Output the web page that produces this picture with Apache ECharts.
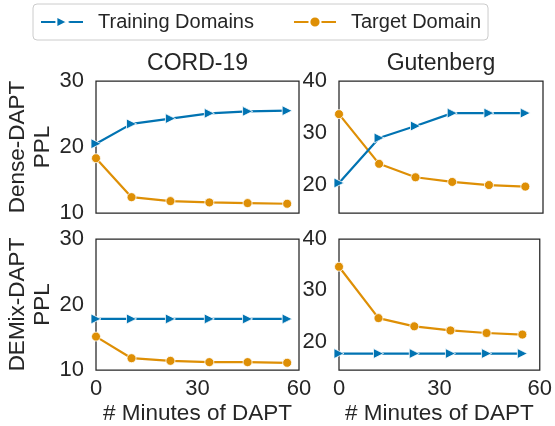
<!DOCTYPE html>
<html>
<head>
<meta charset="utf-8">
<script src="https://cdn.jsdelivr.net/npm/echarts@6.0.0/dist/echarts.min.js"></script>
<style>
    html, body { margin: 0; padding: 0; background: #fff; }
    #chart { width: 555px; height: 426px; }
</style>
</head>
<body>
<div id="chart"></div>
<script>
    // DATA
    // x positions (minutes of DAPT) for each column
    const minutesCord = [0, 10.5, 22, 33.5, 44.8, 56.5];
    const minutesGut = [0, 11.8, 22.5, 33.3, 44.1, 54.8];
    // Dense-DAPT row
    const denseCordTrain = [20.5, 23.5, 24.3, 25.1, 25.4, 25.5];
    const denseCordTarget = [18.3, 12.4, 11.8, 11.6, 11.5, 11.4];
    const denseGutTrain = [20.3, 29.0, 31.3, 33.8, 33.8, 33.8];
    const denseGutTarget = [33.6, 24.0, 21.4, 20.5, 19.9, 19.6];
    // DEMix-DAPT row
    const demixCordTrain = [17.8, 17.8, 17.8, 17.8, 17.8, 17.8];
    const demixCordTarget = [15.1, 11.8, 11.4, 11.2, 11.2, 11.1];
    const demixGutTrain = [17.7, 17.7, 17.7, 17.7, 17.7, 17.7];
    const demixGutTarget = [34.6, 24.6, 23.0, 22.2, 21.7, 21.4];

    const columnTitles = ['CORD-19', 'Gutenberg'];
    const rowNames = ['Dense-DAPT\nPPL', 'DEMix-DAPT\nPPL'];
    const xTicks = [0, 30, 60];
    const leftYTicks = [10, 20, 30];
    const rightYTicks = [20, 30, 40];

    const BLUE = '#0173b2';
    const ORANGE = '#de8f05';
    const INK = '#262626';
    const FONT = 'Liberation Sans, Arial, sans-serif';

    // helper: zip x and y arrays into [x, y] pairs
    function pairs(xs, ys) {
        return xs.map((x, i) => [x, ys[i]]);
    }

    // panel geometry: [left, top, width, height]
    const panels = [
        { box: [96, 81, 203, 132], xs: minutesCord, train: denseCordTrain, target: denseCordTarget, yMin: 10, yMax: 30, yTicks: leftYTicks, row: 0, col: 0 },
        { box: [339, 81, 204, 132], xs: minutesGut, train: denseGutTrain, target: denseGutTarget, yMin: 14.5, yMax: 40, yTicks: rightYTicks, row: 0, col: 1 },
        { box: [96, 239, 203, 132], xs: minutesCord, train: demixCordTrain, target: demixCordTarget, yMin: 10, yMax: 30, yTicks: leftYTicks, row: 1, col: 0 },
        { box: [339, 239, 204, 132], xs: minutesGut, train: demixGutTrain, target: demixGutTarget, yMin: 14.5, yMax: 40, yTicks: rightYTicks, row: 1, col: 1 }
    ];

    const grids = [];
    const xAxes = [];
    const yAxes = [];
    const series = [];

    panels.forEach((p, i) => {
        grids.push({
            left: p.box[0], top: p.box[1], width: p.box[2], height: p.box[3],
            show: true, borderColor: INK, borderWidth: 1.25, backgroundColor: 'transparent'
        });
        xAxes.push({
            gridIndex: i, type: 'value', min: 0, max: 60, interval: 30,
            axisLine: { show: false }, axisTick: { show: false }, splitLine: { show: false },
            axisLabel: {
                show: p.row === 1, color: INK, fontSize: 22, fontFamily: FONT, margin: 8,
                customValues: xTicks
            },
            name: p.row === 1 ? '# Minutes of DAPT' : '',
            nameLocation: 'middle', nameGap: 32,
            nameTextStyle: { color: INK, fontSize: 22.5, fontFamily: FONT }
        });
        yAxes.push({
            gridIndex: i, type: 'value', min: p.yMin, max: p.yMax,
            axisLine: { show: false }, axisTick: { show: false }, splitLine: { show: false },
            axisLabel: {
                color: INK, fontSize: 22, fontFamily: FONT, margin: 12,
                customValues: p.yTicks
            },
            name: p.col === 0 ? rowNames[p.row] : '',
            nameLocation: 'middle', nameGap: 39, nameRotate: 90,
            nameTextStyle: { color: INK, fontSize: 22.5, fontFamily: FONT, lineHeight: 25 }
        });
        series.push({
            name: 'Training Domains', type: 'line',
            xAxisIndex: i, yAxisIndex: i,
            data: pairs(p.xs, p.train),
            symbol: 'triangle', symbolRotate: -90, symbolSize: 10,
            lineStyle: { color: BLUE, width: 2.2 },
            itemStyle: { color: BLUE, borderColor: '#fff', borderWidth: 0.8 },
            emphasis: { disabled: true }, animation: false, z: 3
        });
        series.push({
            name: 'Target Domain', type: 'line',
            xAxisIndex: i, yAxisIndex: i,
            data: pairs(p.xs, p.target),
            symbol: 'circle', symbolSize: 9,
            lineStyle: { color: ORANGE, width: 2.2 },
            itemStyle: { color: ORANGE, borderColor: '#fff', borderWidth: 0.8 },
            emphasis: { disabled: true }, animation: false, z: 2
        });
    });

    const chart = echarts.init(document.getElementById('chart'), null, { renderer: 'canvas' });
    chart.setOption({
        backgroundColor: '#fff',
        animation: false,
        title: [
            { text: columnTitles[0], left: 197.5, top: 52, textAlign: 'center', padding: 0,
              textStyle: { color: INK, fontSize: 23, fontWeight: 'normal', fontFamily: FONT } },
            { text: columnTitles[1], left: 441, top: 52, textAlign: 'center', padding: 0,
              textStyle: { color: INK, fontSize: 23, fontWeight: 'normal', fontFamily: FONT } }
        ],
        legend: {
            data: ['Training Domains', 'Target Domain'],
            left: 33, top: 4,
            padding: [8, 7, 8, 7],
            itemWidth: 42, itemHeight: 14, itemGap: 39,
            borderColor: '#cccccc', borderWidth: 1, borderRadius: 4,
            textStyle: { color: INK, fontSize: 20, fontFamily: FONT, padding: [0, 0, 0, 10] }
        },
        grid: grids,
        xAxis: xAxes,
        yAxis: yAxes,
        series: series
    });
</script>
</body>
</html>
